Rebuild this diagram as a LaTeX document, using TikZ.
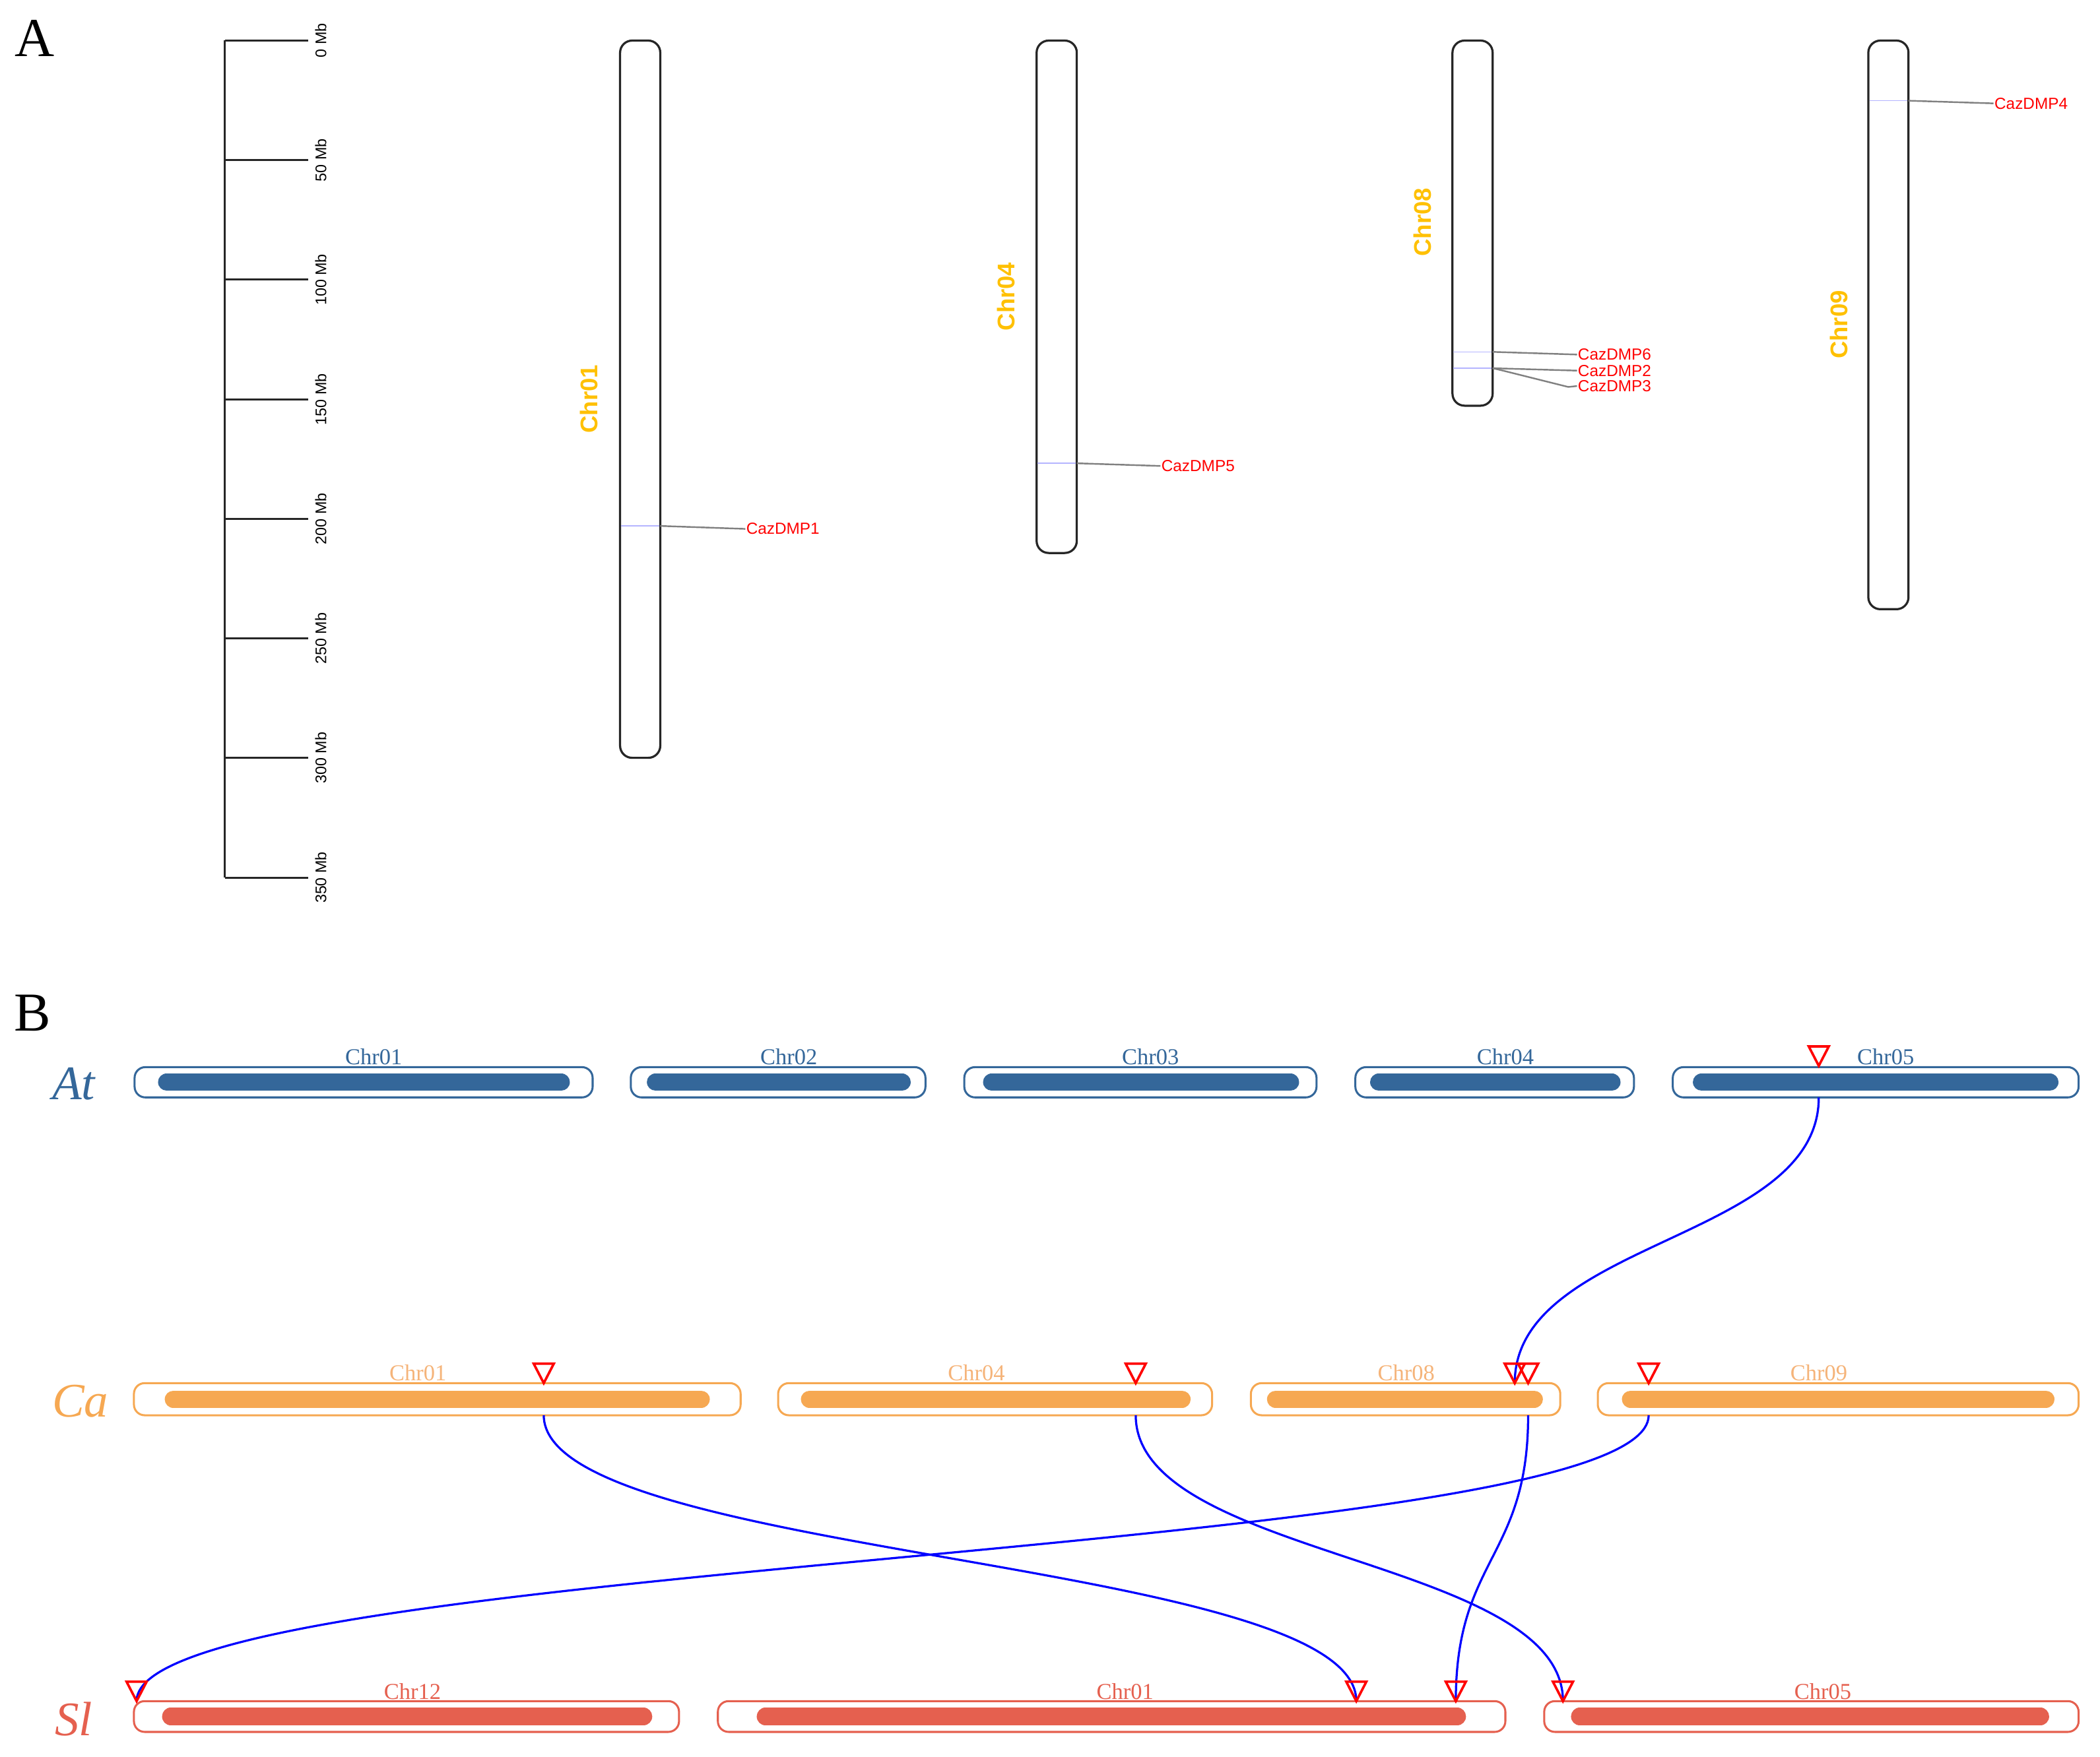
\documentclass[tikz,border=0pt]{standalone}
\usepackage{fontspec}
\usetikzlibrary{calc}
\setmainfont{Liberation Serif}
\newfontfamily\sansf{Liberation Sans}
\definecolor{atblue}{HTML}{34679A}
\definecolor{caorange}{HTML}{F6A852}
\definecolor{calabel}{HTML}{F5B47A}
\definecolor{slred}{HTML}{E5604F}
\definecolor{goldc}{HTML}{FFC000}
\definecolor{bandblue}{HTML}{B4B4FF}
\begin{document}
\begin{tikzpicture}[x=1pt,y=-1pt,
  chrA/.style={draw=black!85, line width=1.6pt, rounded corners=9pt},
  band/.style={draw=bandblue, line width=0.8pt},
  gcon/.style={draw=black!50, line width=1.2pt, line join=round},
  glab/.style={text=red, font=\sansf\fontsize{12}{12}\selectfont, anchor=west, inner sep=0.5pt},
  chrnA/.style={text=goldc, font=\sansf\bfseries\fontsize{18}{18}\selectfont, rotate=90, inner sep=0pt},
  sbar/.style={draw=black!85, line width=1.5pt},
  tlab/.style={font=\sansf\fontsize{11.5}{12}\selectfont, rotate=90, inner sep=0pt},
  panel/.style={font=\fontsize{41}{41}\selectfont, anchor=base, inner sep=0pt},
  species/.style={text=#1, font=\itshape\fontsize{36}{36}\selectfont, anchor=base, inner sep=0pt},
  outerB/.style={draw=#1, line width=1.5pt, rounded corners=8pt, fill=white},
  barB/.style={draw=#1, line width=13pt, line cap=round},
  chrlabB/.style={text=#1, font=\fontsize{17}{17}\selectfont, anchor=base, inner sep=0pt},
  tri/.style={draw=red, line width=1.8pt, line join=miter},
  link/.style={draw=blue, line width=1.6pt}
]
\useasboundingbox (0,0) rectangle (1568,1312);

% ---------------- Panel A ----------------
\node[panel] (labA) at (26,42) {A};

% scale bar
\coordinate (sTop) at (168,30.3);
\coordinate (sBot) at (168,655.4);
\draw[sbar] (sTop) -- (sBot);
\foreach \i/\t in {0/0 Mb,1/50 Mb,2/100 Mb,3/150 Mb,4/200 Mb,5/250 Mb,6/300 Mb,7/350 Mb}{
  \coordinate (tk\i) at (168,30.3+\i*89.3);
  \draw[sbar] (tk\i) -- ++(62,0);
  \node[tlab] (tl\i) at (239.5,30.3+\i*89.3) {\t};
}

% chromosomes
\draw[chrA] (463,30.3) rectangle (493,566);
\draw[chrA] (774,30.3) rectangle (804,413);
\draw[chrA] (1084.5,30.3) rectangle (1114.5,303);
\draw[chrA] (1395,30.3) rectangle (1425,455);

\node[chrnA] (cA1) at (440,298) {Chr01};
\node[chrnA] (cA4) at (751,221.5) {Chr04};
\node[chrnA] (cA8) at (1062,166) {Chr08};
\node[chrnA] (cA9) at (1373,242.5) {Chr09};

% gene bands
\draw[band] (463.8,392.8) -- (492.2,392.8);
\draw[band] (774.8,346) -- (803.2,346);
\draw[band] (1085.3,262.8) -- (1113.7,262.8);
\draw[band] (1085.3,275) -- (1113.7,275);
\draw[band] (1395.8,75.2) -- (1424.2,75.2);

\coordinate (g1) at (493,392.8);
\coordinate (g5) at (804,346);
\coordinate (g6) at (1114.5,262.8);
\coordinate (g23) at (1114.5,275);
\coordinate (g4) at (1425,75.2);

\node[glab] (d1) at (556.5,395) {CazDMP1};
\node[glab] (d5) at (866.5,348) {CazDMP5};
\node[glab] (d6) at (1177.5,264.8) {CazDMP6};
\node[glab] (d2) at (1177.5,276.8) {CazDMP2};
\node[glab] (d3) at (1177.5,288.3) {CazDMP3};
\node[glab] (d4) at (1488.5,77.2) {CazDMP4};

\draw[gcon] (g1) -- (d1.west);
\draw[gcon] (g5) -- (d5.west);
\draw[gcon] (g6) -- (d6.west);
\draw[gcon] (g23) -- (d2.west);
\draw[gcon] (g23) -- (1121,276.5) -- (1171,289) -- (d3.west);
\draw[gcon] (g4) -- (d4.west);

% ---------------- Panel B ----------------
\node[panel] (labB) at (24.5,770) {B};

\node[species=atblue] (spAt) at (55,821) {At};
\node[species=caorange] (spCa) at (60,1058) {Ca};
\node[species=slred] (spSl) at (55,1296) {Sl};

% At row
\foreach \n/\xa/\xb/\ia/\ib/\lx/\t in {
  at1/100.5/442.5/118/425.5/279/Chr01,
  at2/471/691/483/680/589/Chr02,
  at3/720/983/734/970/859/Chr03,
  at4/1012/1220/1023/1210/1124/Chr04,
  at5/1249/1552/1264/1537/1408/Chr05}{
  \draw[outerB=atblue] (\xa,797) rectangle (\xb,819.6);
  \draw[barB=atblue] (\ia+6.5,808.2) -- (\ib-6.5,808.2);
  \node[chrlabB=atblue] (\n) at (\lx,795) {\t};
}

% Ca row
\foreach \n/\xa/\xb/\ia/\ib/\lx/\t in {
  ca1/100/553/123/530/312/Chr01,
  ca4/581/905/598/889/729/Chr04,
  ca8/934/1165/946/1152/1050/Chr08,
  ca9/1193/1552/1211/1534/1358/Chr09}{
  \draw[outerB=caorange] (\xa,1033) rectangle (\xb,1057);
  \draw[barB=caorange] (\ia+6.5,1045) -- (\ib-6.5,1045);
  \node[chrlabB=calabel] (\n) at (\lx,1031) {\t};
}

% Sl row
\foreach \n/\xa/\xb/\ia/\ib/\lx/\t in {
  sl12/100/507/121/487/308/Chr12,
  sl1/536/1124/565/1094.6/840/Chr01,
  sl5/1153/1552/1173/1530/1361/Chr05}{
  \draw[outerB=slred] (\xa,1270.5) rectangle (\xb,1293.5);
  \draw[barB=slred] (\ia+6.5,1282) -- (\ib-6.5,1282);
  \node[chrlabB=slred] (\n) at (\lx,1269) {\t};
}

% link end points
\coordinate (pAt5) at (1358,819.6);
\coordinate (tAt5) at (1358,796);
\coordinate (tCa1) at (406,1033);
\coordinate (pCa1) at (406,1057);
\coordinate (tCa4) at (848,1033);
\coordinate (pCa4) at (848,1057);
\coordinate (tCa8a) at (1131,1033);
\coordinate (tCa8b) at (1141,1033);
\coordinate (pCa8b) at (1141,1057);
\coordinate (tCa9) at (1231,1033);
\coordinate (pCa9) at (1231,1057);
\coordinate (tSl12) at (102,1270.5);
\coordinate (tSl1a) at (1012.7,1270.5);
\coordinate (tSl1b) at (1087,1270.5);
\coordinate (tSl5) at (1167,1270.5);

% links
\draw[link] (pAt5) .. controls +(0,107) and +(0,-107) .. (tCa8a);
\draw[link] (pCa1) .. controls +(0,107) and +(0,-107) .. (tSl1a);
\draw[link] (pCa4) .. controls +(0,107) and +(0,-107) .. (tSl5);
\draw[link] (pCa8b) .. controls +(0,107) and +(0,-107) .. (tSl1b);
\draw[link] (pCa9) .. controls +(0,107) and +(0,-107) .. (tSl12);

% triangles
\foreach \p in {tAt5,tCa1,tCa4,tCa8a,tCa8b,tCa9,tSl12,tSl1a,tSl1b,tSl5}{
  \draw[tri] ($(\p)+(-7.5,-14.5)$) -- ($(\p)+(7.5,-14.5)$) -- (\p) -- cycle;
}
\end{tikzpicture}
\end{document}
